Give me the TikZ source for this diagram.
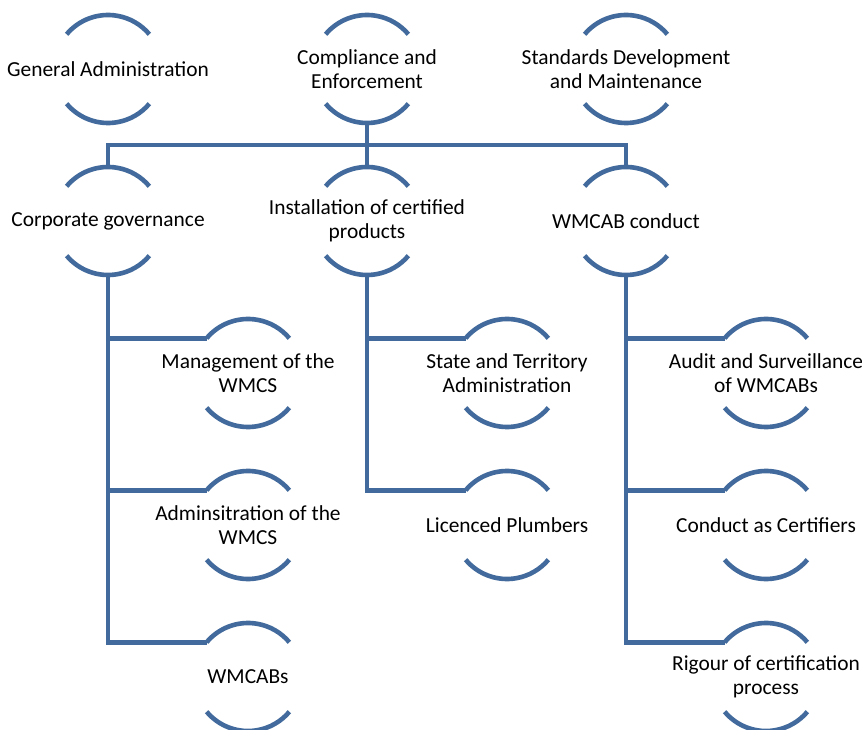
\documentclass[tikz,border=0pt]{standalone}
\usepackage{fontspec}
\setmainfont{Carlito}
\definecolor{arcblue}{RGB}{66,106,156}
\tikzset{
  x=1pt, y=1pt,
  item/.style={align=center, inner sep=0pt, font=\fontsize{21.4}{24.5}\selectfont, text=black},
  ring/.style={draw=arcblue, line width=4.6pt},
  link/.style={draw=arcblue, line width=4.6pt}
}
% top and bottom arcs of the circle round a node
\newcommand{\ringarcs}[1]{%
  \draw[ring] ([shift={(140:54pt)}]#1.center) arc[start angle=140, end angle=40, radius=54pt];
  \draw[ring] ([shift={(220:54pt)}]#1.center) arc[start angle=220, end angle=320, radius=54pt];
}
\begin{document}
\begin{tikzpicture}
\useasboundingbox (0,0) rectangle (862,729);
\clip (0,0) rectangle (862,729);

% first row
\node[item] (ga) at (108,660) {General Administration};
\node[item] (ce) at (367,660) {Compliance and\\Enforcement};
\node[item] (sd) at (626,660) {Standards Development\\and Maintenance};

% second row
\node[item] (cg) at (108,508) {Corporate governance};
\node[item] (ic) at (367,508) {Installation of certified\\products};
\node[item] (wc) at (626,508) {WMCAB conduct};

% children of Corporate governance
\node[item] (mw) at (248,356) {Management of the\\WMCS};
\node[item] (aw) at (248,204) {Adminsitration of the\\WMCS};
\node[item] (wb) at (248,52) {WMCABs};

% children of Installation of certified products
\node[item] (st) at (507,356) {State and Territory\\Administration};
\node[item] (lp) at (507,204) {Licenced Plumbers};

% children of WMCAB conduct
\node[item] (as) at (766,356) {Audit and Surveillance\\of WMCABs};
\node[item] (cc) at (766,204) {Conduct as Certifiers};
\node[item] (rc) at (766,52) {Rigour of certification\\process};

\foreach \n in {ga,ce,sd,cg,ic,wc,mw,aw,wb,st,lp,as,cc,rc} {\ringarcs{\n}}

% bus below Compliance and Enforcement
\coordinate (bus) at (367,584);
\draw[link] ([yshift=-54pt]ce.center) -- ([yshift=54pt]ic.center);
\draw[link] ([yshift=54pt]cg.center) |- (bus) -| ([yshift=54pt]wc.center);

% branches to the children
\foreach \p/\c in {cg/mw, cg/aw, cg/wb, ic/st, ic/lp, wc/as, wc/cc, wc/rc}
  \draw[link] ([yshift=-54pt]\p.center) |- ([shift={(140:54pt)}]\c.center);
\end{tikzpicture}
\end{document}
